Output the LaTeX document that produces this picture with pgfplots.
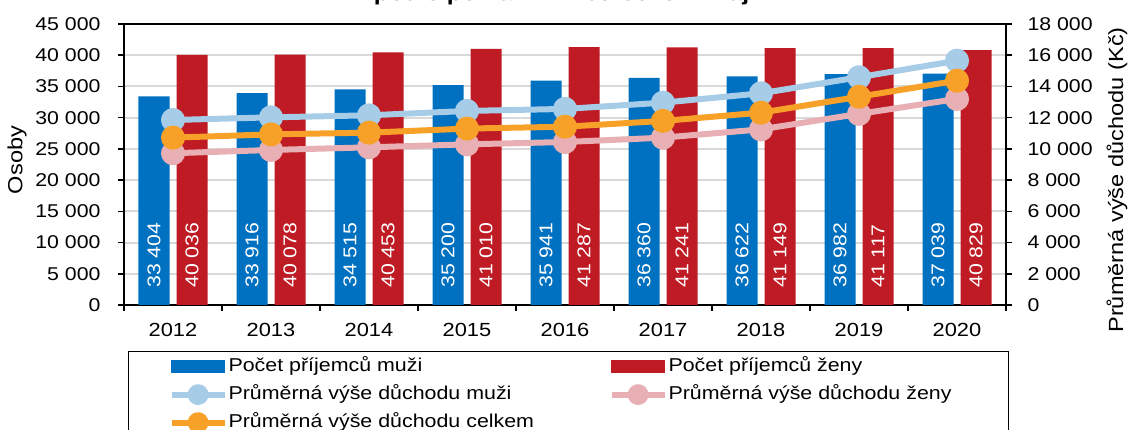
\documentclass[border=0pt]{standalone}
\usepackage{pgfplots}
\usepackage{pgfplotstable}
\pgfplotsset{compat=1.18}
\usepackage{fontspec}
\setmainfont{Liberation Sans}[FakeStretch=1.15]
\definecolor{cBlue}{HTML}{0070C0}
\definecolor{cRed}{HTML}{BE1B24}
\definecolor{cLBlue}{HTML}{A6CCE8}
\definecolor{cPink}{HTML}{E8B0B4}
\definecolor{cOrange}{HTML}{F7A129}
\definecolor{cGrid}{HTML}{D9D9D9}

\pgfplotstableread{
year men women
2012 33404 40036
2013 33916 40078
2014 34515 40453
2015 35200 41010
2016 35941 41287
2017 36360 41241
2018 36622 41149
2019 36982 41117
2020 37039 40829
}\bars

\pgfplotstableread{
year men women total
2012 11850 9720 10720
2013 12020 9930 10930
2014 12150 10100 11040
2015 12430 10290 11300
2016 12560 10440 11420
2017 12960 10720 11790
2018 13560 11250 12320
2019 14590 12240 13340
2020 15650 13200 14370
}\pens

\newcommand\tickfont{\fontsize{18.5}{20}\selectfont}

\begin{document}
\begin{tikzpicture}[x=1pt,y=1pt]
\pgfplotsset{
  common/.style={
    at={(124pt,125pt)}, anchor=south west,
    scale only axis, width=882pt, height=281pt,
    xmin=2011.5, xmax=2020.5,
    /pgf/number format/.cd, 1000 sep={\ }, assume math mode=true, fixed,
    /pgfplots/.cd,
    scaled y ticks=false,
    tick align=outside,
    major tick length=6pt,
    tick style={black, line width=1.5pt},
    axis line style={black, line width=1.8pt},
    tick label style={font=\tickfont},
  }
}
\begin{axis}[
  common,
  ymin=0, ymax=45000,
  ytick={0,5000,...,45000},
  ytick pos=left, xtick pos=bottom,
  ymajorgrids, grid style={cGrid, line width=2pt},
  xtick={2011.5,2012.5,...,2020.5},
  xticklabel=\empty,
  extra x ticks={2012,2013,...,2020},
  extra x tick labels={2012,2013,2014,2015,2016,2017,2018,2019,2020},
  extra x tick style={major tick length=0pt, grid=none,
    tick label style={font=\fontsize{19}{21}\selectfont, yshift=-15pt}},
  yticklabel style={xshift=-14pt},
  ylabel={Osoby},
  every axis y label/.style={at={(axis description cs:0,0.516)}, xshift=-107pt, rotate=90, anchor=center, font=\fontsize{20.5}{22}\selectfont},
  title={\bfseries podle pohlaví v Libereckém kraji},
  title style={at={(axis description cs:0.5,1)}, anchor=base, yshift=17pt, font=\fontsize{21.5}{24}\selectfont},
  ybar=7pt, bar width=31pt,
  nodes near coords,
  visualization depends on={y \as \rawy},
  every node near coord/.append style={shift={(axis direction cs:0,-\rawy)}, yshift=17pt, rotate=90, anchor=west, inner sep=0pt, text=white, font=\tickfont},
]
\addplot[fill=cBlue, draw=none] table[x=year, y=men] {\bars};
\addplot[fill=cRed, draw=none] table[x=year, y=women] {\bars};
\end{axis}

\begin{axis}[
  common,
  ymin=0, ymax=18000,
  ytick={0,2000,...,18000},
  axis y line*=right, axis x line=none,
  yticklabel style={xshift=12pt},
  ylabel={Průměrná výše důchodu (Kč)},
  every axis y label/.style={at={(axis description cs:1,0.445)}, xshift=111pt, rotate=90, anchor=center, font=\fontsize{20.5}{22}\selectfont},
  legend image code/.code={\draw[#1, every mark/.append style={scale=0.82}, mark repeat=2, mark phase=2] plot coordinates {(0pt,0pt) (26.5pt,0pt) (53pt,0pt)};},
  legend columns=2,
  legend cell align=left,
  legend style={at={(axis description cs:0.0045,-0.1637)}, anchor=north west,
    draw=black, line width=1.2pt, inner xsep=40pt, inner ysep=6pt,
    font=\fontsize{18.6}{20}\selectfont, row sep=10pt,
    nodes={inner sep=0pt, text height=14pt, text depth=4pt},
    /tikz/every odd column/.append style={column sep=1pt},
    /tikz/every even column/.append style={column sep=0pt}},
]
\addlegendimage{legend image code/.code={\fill[cBlue] (0pt,-5.5pt) rectangle (53pt,5.5pt);}}
\addlegendentry{\makebox[380pt][l]{Počet příjemců muži}}
\addlegendimage{legend image code/.code={\fill[cRed] (0pt,-5.5pt) rectangle (53pt,5.5pt);}}
\addlegendentry{\makebox[300pt][l]{Počet příjemců ženy}}
\addplot[color=cLBlue, line width=6pt, line join=round, mark=*, mark size=9pt, mark options={draw=none, fill=cLBlue}] table[x=year, y=men] {\pens};
\addlegendentry{\makebox[380pt][l]{Průměrná výše důchodu muži}}
\addplot[color=cPink, line width=6pt, line join=round, mark=*, mark size=9pt, mark options={draw=none, fill=cPink}] table[x=year, y=women] {\pens};
\addlegendentry{\makebox[300pt][l]{Průměrná výše důchodu ženy}}
\addplot[color=cOrange, line width=6pt, line join=round, mark=*, mark size=9pt, mark options={draw=none, fill=cOrange}] table[x=year, y=total] {\pens};
\addlegendentry{\makebox[380pt][l]{Průměrná výše důchodu celkem}}
\end{axis}
\pgfresetboundingbox
\useasboundingbox (0,0) rectangle (1129,430);
\end{tikzpicture}
\end{document}
